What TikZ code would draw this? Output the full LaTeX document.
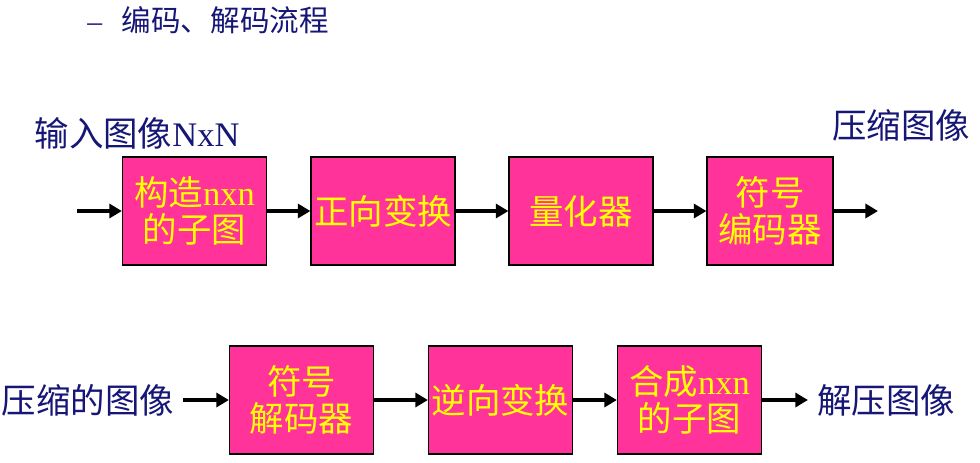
\documentclass[tikz,border=0pt]{standalone}
\usepackage{fontspec}
\setmainfont{Liberation Serif}
\newfontfamily\cjk{Noto Sans CJK SC}
\definecolor{boxpink}{RGB}{255,51,153}
\definecolor{boxyellow}{RGB}{255,255,0}
\definecolor{labnavy}{RGB}{22,22,118}
\usetikzlibrary{arrows.meta,positioning}
\newcommand{\lat}[1]{{\rmfamily #1}}
\tikzset{
  blk/.style={draw=black,line width=0.8pt,fill=boxpink,text=boxyellow,
    minimum width=3.6cm,minimum height=2.7cm,inner sep=0pt,align=center,
    font=\cjk\fontsize{24.5}{26.5}\selectfont},
  blknarrow/.style={blk,minimum width=3.15cm},
  flow/.style={-{Triangle[length=9pt,width=10pt]},line width=3pt},
  lab/.style={text=labnavy,inner sep=0pt,outer sep=6.5pt,font=\cjk\fontsize{24.5}{29}\selectfont},
  ttl/.style={text=labnavy,inner sep=0pt,anchor=west,font=\cjk\fontsize{21}{25}\selectfont},
}

\begin{document}
\begin{tikzpicture}[x=0.025cm,y=-0.025cm]
  \useasboundingbox (0,0) rectangle (980,462);
  \node[ttl] (title) at (87,20) {\lat{–}\ \ \ 编码、解码流程};
  % encoding chain
  \node[blk] (mk)  at (194.5,211) {构造\lat{nxn}\\的子图};
  \node[blk] (fwd) at (383,211) {正向变换};
  \node[blk] (qnt) at (581,211) {量化器};
  \node[blknarrow] (enc) at (770,211) {符号\\编码器};
  \coordinate (inA)  at (77,211);
  \coordinate (outA) at (878,211);
  \node[lab] (inlab)  at (137,133) {输入图像\lat{NxN}};
  \node[lab] (outlab) at (901,125) {压缩图像};
  \draw[flow] (inA) -- (mk);
  \draw[flow] (mk) -- (fwd);
  \draw[flow] (fwd) -- (qnt);
  \draw[flow] (qnt) -- (enc);
  \draw[flow] (enc) -- (outA);
  % decoding chain
  \node[blk] (dec) at (301.5,400) {符号\\解码器};
  \node[blk] (inv) at (500.5,400) {逆向变换};
  \node[blk] (syn) at (689.5,400) {合成\lat{nxn}\\的子图};
  \node[lab] (cmp)  at (88,400) {压缩的图像};
  \node[lab] (rec)  at (886,400) {解压图像};
  \draw[flow] (cmp) -- (dec);
  \draw[flow] (dec) -- (inv);
  \draw[flow] (inv) -- (syn);
  \draw[flow] (syn) -- (rec);
\end{tikzpicture}
\end{document}
